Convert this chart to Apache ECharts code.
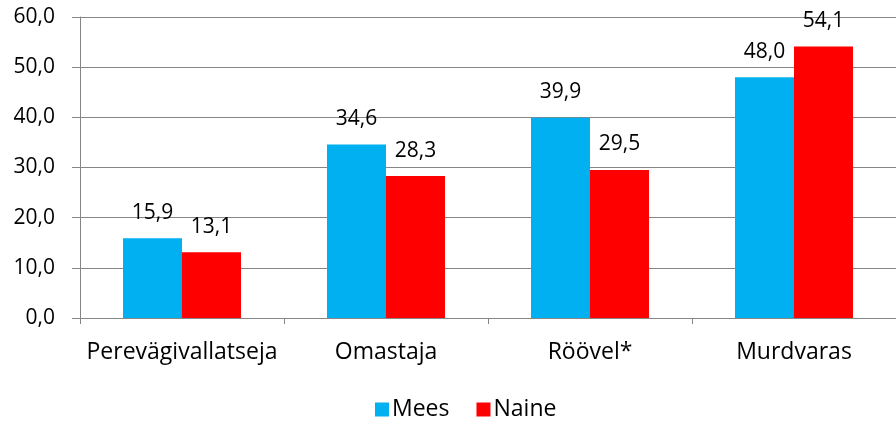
<!DOCTYPE html>
<html>
<head>
<meta charset="utf-8">
<script src="https://cdn.jsdelivr.net/npm/echarts@6/dist/echarts.min.js"></script>
<style>
  html, body { margin: 0; padding: 0; background: #fff; }
  #chart { width: 896px; height: 421px; }
</style>
</head>
<body>
<div id="chart"></div>
<script>
const categories = ['Perevägivallatseja', 'Omastaja', 'Röövel*', 'Murdvaras']
const mees = [15.9, 34.6, 39.9, 48.0]
const naine = [13.1, 28.3, 29.5, 54.1]
const seriesNames = ['Mees', 'Naine']

const fmt = v => v.toFixed(1).replace('.', ',')
const font = 'Open Sans, sans-serif'
const numSize = 21   // numbers (axis + bar labels)
const textSize = 23  // category names + legend

const barLabel = { show: true, position: 'top', distance: 15, color: '#000', fontSize: numSize, fontFamily: font, formatter: p => fmt(p.value) }

const chart = echarts.init(document.getElementById('chart'))
chart.setOption({
  animation: false,
  textStyle: { fontFamily: font },
  grid: { left: 80, top: 17, right: -10, bottom: 103 },
  legend: {
    data: seriesNames,
    bottom: -5,
    left: 370,
    itemWidth: 14,
    itemHeight: 14,
    itemGap: 27,
    icon: 'rect',
    textStyle: { fontSize: textSize, color: '#000', fontFamily: font, padding: [0, 0, 0, -2] }
  },
  xAxis: {
    type: 'category',
    data: categories,
    axisLine: { lineStyle: { color: '#868686', width: 1 } },
    axisTick: { show: true, interval: 0, length: 6, lineStyle: { color: '#868686' } },
    axisLabel: { interval: 0, color: '#000', fontSize: textSize, margin: 23, fontFamily: font },
    splitLine: { show: false }
  },
  yAxis: {
    type: 'value',
    min: 0,
    max: 60,
    interval: 10,
    axisLine: { show: true, lineStyle: { color: '#868686' } },
    axisTick: { show: true, length: 8, lineStyle: { color: '#868686' } },
    axisLabel: { color: '#000', fontSize: numSize, margin: 25, fontFamily: font, formatter: fmt },
    splitLine: { lineStyle: { color: '#868686', width: 1 } }
  },
  series: [
    {
      name: seriesNames[0],
      type: 'bar',
      barWidth: 59,
      barGap: '0%',
      itemStyle: { color: '#00b0f0' },
      data: mees,
      label: barLabel
    },
    {
      name: seriesNames[1],
      type: 'bar',
      barWidth: 59,
      itemStyle: { color: '#ff0000' },
      data: naine,
      label: barLabel
    }
  ]
})
</script>
</body>
</html>
